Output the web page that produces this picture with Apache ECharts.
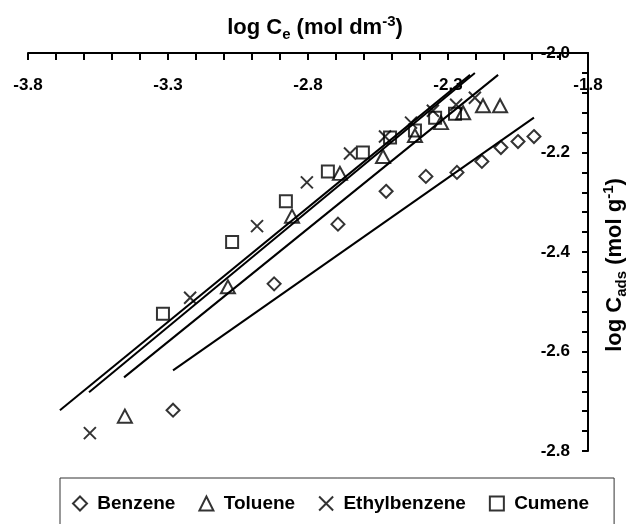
<!DOCTYPE html>
<html>
<head>
<meta charset="utf-8">
<script src="https://cdn.jsdelivr.net/npm/echarts@6/dist/echarts.min.js"></script>
<style>html,body{margin:0;padding:0;background:#fff}#c{width:628px;height:524px}</style>
</head>
<body>
<div id="c"></div>
<script>
// ---- data ----
const seriesNames = ['Benzene', 'Toluene', 'Ethylbenzene', 'Cumene'];

const benzeneX = [-3.282, -2.921, -2.693, -2.521, -2.379, -2.268, -2.179, -2.111, -2.050, -1.993];
const benzeneY = [-2.718, -2.464, -2.344, -2.278, -2.248, -2.240, -2.218, -2.190, -2.178, -2.168];

const tolueneX = [-3.454, -3.086, -2.857, -2.686, -2.532, -2.418, -2.325, -2.246, -2.175, -2.114];
const tolueneY = [-2.730, -2.470, -2.328, -2.242, -2.208, -2.166, -2.140, -2.120, -2.106, -2.106];

const ethylX = [-3.579, -3.221, -2.982, -2.804, -2.650, -2.525, -2.432, -2.354, -2.271, -2.204];
const ethylY = [-2.764, -2.492, -2.348, -2.260, -2.202, -2.168, -2.140, -2.116, -2.104, -2.090];

const cumeneX = [-3.318, -3.071, -2.879, -2.729, -2.604, -2.507, -2.418, -2.346, -2.275];
const cumeneY = [-2.524, -2.380, -2.298, -2.238, -2.200, -2.170, -2.156, -2.130, -2.122];

// fitted lines (end points)
const benzeneFitX = [-3.282, -1.993];
const benzeneFitY = [-2.638, -2.130];
const tolueneFitX = [-3.457, -2.121];
const tolueneFitY = [-2.652, -2.044];
const ethylFitX = [-3.582, -2.204];
const ethylFitY = [-2.682, -2.040];
const cumeneFitX = [-3.686, -2.221];
const cumeneFitY = [-2.718, -2.044];

// axes
const xMin = -3.8, xMax = -1.8, xTickStep = 0.1;
const xLabelValues = [-3.8, -3.3, -2.8, -2.3, -1.8];
const yMin = -2.8, yMax = -2.0, yTickStep = 0.04;
const yLabelValues = [-2.8, -2.6, -2.4, -2.2, -2.0];

// ---- build ----
const FONT = "'Liberation Sans', Arial, sans-serif";
const zip = (xs, ys) => xs.map((x, i) => [x, ys[i]]);
const isLabel = (v, list) => list.some(l => Math.abs(l - v) < 1e-6);

const markerStyle = { color: 'rgba(0,0,0,0)', borderColor: '#000', borderWidth: 2 };
const crossPath = 'path://M0,0L10,10M10,0L0,10';

function scatter(name, xs, ys, symbol, size) {
  return {
    name, type: 'scatter', data: zip(xs, ys), symbol, symbolSize: size,
    itemStyle: markerStyle, z: 3
  };
}
function fit(name, xs, ys) {
  return {
    name: name + ' fit', type: 'line', data: zip(xs, ys), symbol: 'none',
    lineStyle: { color: '#000', width: 2 }, silent: true, z: 2
  };
}
const titleRich = {
  a: { fontFamily: FONT, fontWeight: 'bold', fontSize: 22, lineHeight: 28, fill: '#000' },
  s: { fontFamily: FONT, fontWeight: 'bold', fontSize: 15, lineHeight: 15, verticalAlign: 'bottom', fill: '#000' },
  p: { fontFamily: FONT, fontWeight: 'bold', fontSize: 15, lineHeight: 15, verticalAlign: 'top', fill: '#000' }
};

const chart = echarts.init(document.getElementById('c'), null, { renderer: 'canvas' });
chart.setOption({
  animation: false,
  backgroundColor: '#fff',
  grid: { left: 28, top: 53, width: 560, height: 398 },
  xAxis: {
    type: 'value', position: 'top', min: xMin, max: xMax, interval: xTickStep,
    axisLine: { lineStyle: { color: '#000', width: 2 } },
    axisTick: { inside: true, length: 7, lineStyle: { color: '#000', width: 2 } },
    axisLabel: {
      inside: true, margin: 24, showMinLabel: true, showMaxLabel: true,
      color: '#000', fontFamily: FONT, fontWeight: 'bold', fontSize: 17,
      formatter: v => isLabel(v, xLabelValues) ? v.toFixed(1) : ''
    },
    splitLine: { show: false }
  },
  yAxis: {
    type: 'value', position: 'right', min: yMin, max: yMax, interval: yTickStep,
    axisLine: { lineStyle: { color: '#000', width: 2 } },
    axisTick: { inside: true, length: 6, lineStyle: { color: '#000', width: 2 } },
    axisLabel: {
      inside: true, margin: 18, showMinLabel: true, showMaxLabel: true,
      color: '#000', fontFamily: FONT, fontWeight: 'bold', fontSize: 17,
      formatter: v => isLabel(v, yLabelValues) ? v.toFixed(1) : ''
    },
    splitLine: { show: false }
  },
  legend: {
    data: seriesNames, left: 60, top: 478, orient: 'horizontal',
    itemGap: 23, itemWidth: 14, itemHeight: 14,
    padding: [16, 25, 30, 12],
    borderColor: '#333', borderWidth: 1,
    formatter: name => ' ' + name,
    textStyle: { color: '#000', fontFamily: FONT, fontWeight: 'bold', fontSize: 19 },
    selectedMode: false
  },
  graphic: [
    {
      type: 'text', x: 315, y: 28,
      style: {
        text: '{a|log C}{s|e}{a| (mol dm}{p|-3}{a|)}',
        align: 'center', verticalAlign: 'middle', fill: '#000',
        rich: titleRich
      }
    },
    {
      type: 'text', x: 615, y: 265, rotation: Math.PI / 2,
      style: {
        text: '{a|log C}{s|ads}{a| (mol g}{p|-1}{a|)}',
        align: 'center', verticalAlign: 'middle', fill: '#000',
        rich: titleRich
      }
    }
  ],
  series: [
    scatter('Benzene', benzeneX, benzeneY, 'diamond', 13),
    scatter('Toluene', tolueneX, tolueneY, 'triangle', [14, 13]),
    scatter('Ethylbenzene', ethylX, ethylY, crossPath, 12),
    scatter('Cumene', cumeneX, cumeneY, 'rect', 12),
    fit('Benzene', benzeneFitX, benzeneFitY),
    fit('Toluene', tolueneFitX, tolueneFitY),
    fit('Ethylbenzene', ethylFitX, ethylFitY),
    fit('Cumene', cumeneFitX, cumeneFitY)
  ]
});
</script>
</body>
</html>
